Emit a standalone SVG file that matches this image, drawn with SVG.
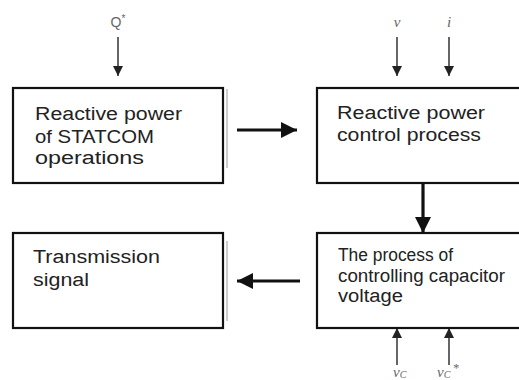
<svg xmlns="http://www.w3.org/2000/svg" width="519" height="380" viewBox="0 0 519 380">
<defs>
<style>
.box{fill:#fff;stroke:#111;stroke-width:2.2}
.side{fill:none;stroke:#999;stroke-width:1}
.t{font-family:"Liberation Sans",Arial,sans-serif;font-size:18px;fill:#222}
.thin{stroke:#333;stroke-width:1.5;fill:none}
.thick{stroke:#111;stroke-width:3.2;fill:none}
.lbl{font-family:"Liberation Serif","Times New Roman",serif;font-style:italic;font-size:15px;fill:#666}
.q{font-family:"Liberation Sans",Arial,sans-serif;font-size:14px;fill:#666}
</style>
<marker id="ah" viewBox="0 0 10 10" refX="10" refY="5" markerWidth="15" markerHeight="10" markerUnits="userSpaceOnUse" orient="auto"><path d="M0,0 L10,5 L0,10 Z" fill="#222"/></marker>
<marker id="AH" viewBox="0 0 10 10" refX="10" refY="5" markerWidth="24" markerHeight="16" markerUnits="userSpaceOnUse" orient="auto"><path d="M0,0 L10,5 L0,10 Z" fill="#111"/></marker>
</defs>
<g id="connectors">
<line class="thin" x1="118" y1="37" x2="118" y2="76" marker-end="url(#ah)"/>
<line class="thin" x1="397" y1="37" x2="397" y2="76" marker-end="url(#ah)"/>
<line class="thin" x1="449" y1="37" x2="449" y2="76" marker-end="url(#ah)"/>
<line class="thick" x1="237" y1="130" x2="297" y2="130" marker-end="url(#AH)"/>
<line class="thick" x1="423" y1="184" x2="423" y2="233" marker-end="url(#AH)"/>
<line class="thick" x1="300" y1="281" x2="237" y2="281" marker-end="url(#AH)"/>
<line class="thin" x1="397" y1="365" x2="397" y2="328" marker-end="url(#ah)"/>
<line class="thin" x1="449" y1="365" x2="449" y2="328" marker-end="url(#ah)"/>
</g>
<g id="labels">
<text class="q" x="118" y="27" text-anchor="middle">Q<tspan font-size="10" dy="-5">*</tspan></text>
<text class="lbl" x="397" y="27" text-anchor="middle">v</text>
<text class="lbl" x="449" y="27" text-anchor="middle">i</text>
<text class="lbl" x="393" y="377">v<tspan font-size="10" dy="1">C</tspan></text>
<text class="lbl" x="437" y="377">v<tspan font-size="10" dy="1">C</tspan><tspan font-style="normal" font-size="12" dy="-6"> *</tspan></text>
</g>
<g id="node-statcom">
<rect class="box" x="13" y="88" width="210" height="95"/>
<line class="side" x1="227" y1="89" x2="227" y2="168"/>
<text class="t" x="35" y="120" textLength="147" lengthAdjust="spacingAndGlyphs">Reactive power</text>
<text class="t" x="35" y="143" textLength="119" lengthAdjust="spacingAndGlyphs">of STATCOM</text>
<text class="t" x="35" y="164" textLength="109" lengthAdjust="spacingAndGlyphs">operations</text>
</g>
<g id="node-control">
<rect class="box" x="317" y="88" width="215" height="95"/>
<text class="t" x="337" y="119" textLength="148" lengthAdjust="spacingAndGlyphs">Reactive power</text>
<text class="t" x="337" y="141" textLength="144" lengthAdjust="spacingAndGlyphs">control process</text>
</g>
<g id="node-transmission">
<rect class="box" x="13" y="233" width="210" height="95"/>
<line class="side" x1="227" y1="241" x2="227" y2="321"/>
<text class="t" x="33" y="263" textLength="127" lengthAdjust="spacingAndGlyphs">Transmission</text>
<text class="t" x="33" y="286" textLength="56" lengthAdjust="spacingAndGlyphs">signal</text>
</g>
<g id="node-capacitor">
<rect class="box" x="317" y="233" width="215" height="95"/>
<text class="t" x="338" y="261" textLength="115" lengthAdjust="spacingAndGlyphs">The process of</text>
<text class="t" x="338" y="282" textLength="167" lengthAdjust="spacingAndGlyphs">controlling capacitor</text>
<text class="t" x="338" y="302" textLength="65" lengthAdjust="spacingAndGlyphs">voltage</text>
</g>
</svg>
